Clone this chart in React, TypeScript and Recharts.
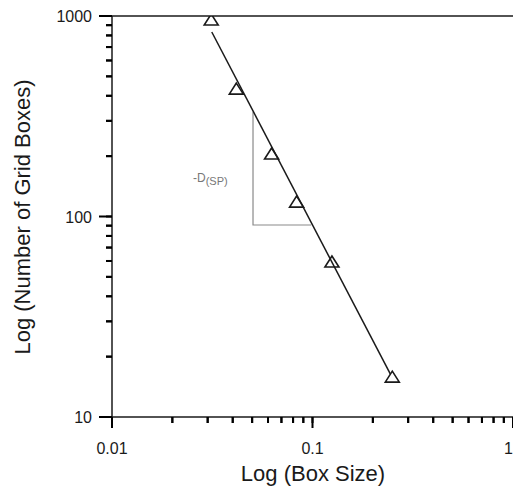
import React from "react";
import {
  ComposedChart,
  XAxis,
  YAxis,
  Scatter,
  Line,
  ReferenceLine,
  Customized,
} from "recharts";

const boxSize = [0.03125, 0.0417, 0.0625, 0.0833, 0.125, 0.25];
const gridBoxes = [955, 432, 205, 118, 59.3, 15.8];

const fitX = [0.03145, 0.2443];
const fitY = [832, 16.4];

const slopeX = [0.0505, 0.0505, 0.0985];
const slopeY = [333, 90.7, 90.7];

const xMajorTicks = [0.01, 0.1, 1];
const xMajorLabels = ["0.01", "0.1", "1"];
const xMinorTicks = [0.02, 0.03, 0.04, 0.05, 0.06, 0.07, 0.08, 0.09, 0.2, 0.3, 0.4, 0.5, 0.6, 0.7, 0.8, 0.9];

const yMajorTicks = [10, 100, 1000];
const yMajorLabels = ["10", "100", "1000"];
const yMinorTicks = [20, 30, 40, 50, 60, 70, 80, 90, 200, 300, 400, 500, 600, 700, 800, 900];

const FONT = "Arial, 'Liberation Sans', sans-serif";
const INK = "#1a1a1a";
const TICK = "#000000";

const points = boxSize.map((x, i) => ({ x, y: gridBoxes[i] }));
const fitLine = fitX.map((x, i) => ({ x, y: fitY[i] }));
const slopeLines = slopeX.map((x, i) => ({ x, y: slopeY[i] }));

const xTicks = [...xMajorTicks, ...xMinorTicks].sort((a, b) => a - b);
const yTicks = [...yMajorTicks, ...yMinorTicks].sort((a, b) => a - b);

const isClose = (a: number, b: number) => Math.abs(a - b) / b < 1e-6;

// axis draws the 6px tick; majors get 5px more plus the label
function XTick(props: any) {
  const x = Number(props.x);
  const y = Number(props.y);
  const v = Number(props.payload.value);
  const idx = xMajorTicks.findIndex((t) => isClose(v, t));
  const major = idx >= 0;
  const last = idx === xMajorTicks.length - 1;
  return (
    <g>
      <rect x={x - 1} y={y - 6} width={2} height={major ? 11 : 6} fill={TICK} />
      {major ? (
        <text
          x={x}
          y={y + 31}
          textAnchor={last ? "end" : "middle"}
          fontSize={16}
          fontFamily={FONT}
          fill={INK}
        >
          {xMajorLabels[idx]}
        </text>
      ) : null}
    </g>
  );
}

function YTick(props: any) {
  const x = Number(props.x);
  const y = Number(props.y);
  const v = Number(props.payload.value);
  const idx = yMajorTicks.findIndex((t) => isClose(v, t));
  const major = idx >= 0;
  const len = major ? 13 : 6;
  return (
    <g>
      <rect x={x + 6 - len} y={y - 1} width={len} height={2} fill={TICK} />
      {major ? (
        <text x={x - 14} y={y + 6} textAnchor="end" fontSize={16} fontFamily={FONT} fill={INK}>
          {yMajorLabels[idx]}
        </text>
      ) : null}
    </g>
  );
}

function Triangle(props: any) {
  const { cx, cy } = props;
  return (
    <path
      d={`M${cx},${cy - 6} L${cx + 7},${cy + 5} L${cx - 7},${cy + 5} Z`}
      fill="none"
      stroke={INK}
      strokeWidth={1.6}
    />
  );
}

function Titles() {
  return (
    <g fontFamily={FONT} fill={INK}>
      <text x={313} y={481} textAnchor="middle" fontSize={22}>
        Log (Box Size)
      </text>
      <text x={30} y={217} textAnchor="middle" fontSize={22} transform="rotate(-90, 30, 217)">
        Log (Number of Grid Boxes)
      </text>
      <text x={193} y={182} fontSize={12} fill="#777">
        -D
        <tspan fontSize={11} dy={3}>(SP)</tspan>
      </text>
    </g>
  );
}

export default function App() {
  return (
    <div style={{ position: "absolute", left: 0, top: 0, background: "#fff" }}>
      <ComposedChart width={513} height={492} margin={{ top: 16, right: 0, left: 0, bottom: 0 }}>
        <XAxis
          dataKey="x"
          type="number"
          scale="log"
          domain={[0.01, 1]}
          ticks={xTicks}
          interval={0}
          minTickGap={0}
          tick={XTick}
          tickLine={{ stroke: TICK, strokeWidth: 2 }}
          tickSize={6}
          tickMargin={0}
          height={75}
          allowDataOverflow
          axisLine={{ stroke: INK, strokeWidth: 1.5 }}
        />
        <YAxis
          dataKey="y"
          type="number"
          scale="log"
          domain={[10, 1000]}
          ticks={yTicks}
          interval={0}
          minTickGap={0}
          tick={YTick}
          tickLine={{ stroke: TICK, strokeWidth: 2 }}
          tickSize={6}
          tickMargin={0}
          width={112}
          allowDataOverflow
          axisLine={{ stroke: INK, strokeWidth: 1.5 }}
        />
        <ReferenceLine y={1000} stroke={INK} strokeWidth={1.5} />
        <Line
          data={slopeLines}
          dataKey="y"
          stroke="#8a8a8a"
          strokeWidth={1.2}
          dot={false}
          isAnimationActive={false}
        />
        <Line
          data={fitLine}
          dataKey="y"
          stroke={INK}
          strokeWidth={1.5}
          dot={false}
          isAnimationActive={false}
        />
        <Scatter data={points} dataKey="y" shape={<Triangle />} isAnimationActive={false} />
        <Customized component={<Titles />} />
      </ComposedChart>
    </div>
  );
}
